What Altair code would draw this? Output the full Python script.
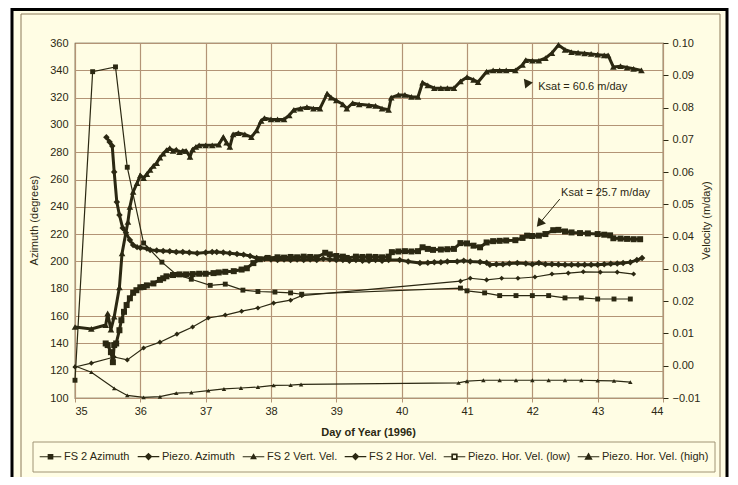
import altair as alt
import pandas as pd

DARK = "#2b2812"
CREAM = "#fffde4"
GRID = "#b39476"
FONT = "Liberation Sans"

# ---------------- data (left axis: degrees) ----------------
fs2_az_day = [35.00, 35.27, 35.62, 35.80, 36.05, 36.33, 36.55, 36.78, 37.07, 37.30, 37.57, 37.80,
              38.06, 38.30, 38.47, 40.90, 41.00, 41.27, 41.50, 41.75, 42.00, 42.25, 42.50, 42.75,
              43.00, 43.25, 43.50]
fs2_az_val = [113, 339, 342.5, 269, 213.5, 199.5, 190.5, 187, 182.5, 183.4, 179, 178,
              177.6, 177, 176, 180.5, 178.5, 177, 175, 175, 175, 175, 173.3, 173.3,
              172.5, 172.5, 172.5]

pz_az_day = [35.48, 35.53, 35.57, 35.60, 35.64, 35.68, 35.73, 35.78, 35.84, 35.89, 35.95, 36.00,
             36.10, 36.15, 36.25, 36.35, 36.45, 36.55, 36.65, 36.75, 36.87, 37.00, 37.10, 37.17,
             37.27, 37.37, 37.48, 37.58, 37.68, 37.78, 37.90, 38.00, 38.10, 38.20, 38.30, 38.40,
             38.50, 38.60, 38.70, 38.80, 38.90, 39.00, 39.10, 39.20, 39.30, 39.40, 39.50, 39.60,
             39.70, 39.80, 39.97, 40.10, 40.28, 40.40, 40.50, 40.60, 40.70, 40.85, 40.95, 41.05,
             41.20, 41.30, 41.35, 41.45, 41.55, 41.65, 41.77, 41.90, 42.00, 42.10, 42.20, 42.30,
             42.40, 42.50, 42.60, 42.70, 42.80, 42.90, 43.00, 43.10, 43.20, 43.30, 43.39, 43.50,
             43.60, 43.68]
pz_az_val = [291, 287.5, 284.5, 265.5, 243.5, 234, 224.5, 221, 215.7, 212, 210.5, 210,
             209.5, 208.4, 208, 207.7, 207.5, 207, 207, 206.5, 206, 206.5, 207, 207,
             206.5, 206, 205.5, 205, 204, 202.5, 202, 201.5, 201, 201.5, 201, 201.5,
             201, 201.5, 201, 202, 201.5, 201, 201, 200.5, 201, 200.5, 200.5, 201,
             200.5, 201, 201, 200, 198.8, 199, 199.5, 199.5, 200, 200, 200.5, 200,
             199.6, 199, 197.6, 198, 198, 198.5, 198.8, 198.5, 198, 198.8, 198, 198,
             197.8, 197.6, 197.6, 197.6, 197.6, 197.6, 197.6, 198, 198.3, 198.5, 198.8, 199.5,
             201, 202.5]

# ---------------- data (right axis: m/day) ----------------
vert_day = [35.00, 35.25, 35.60, 35.80, 36.05, 36.30, 36.55, 36.78, 37.04, 37.28, 37.54, 37.80,
            38.04, 38.30, 38.46, 40.87, 41.00, 41.25, 41.50, 41.75, 42.00, 42.25, 42.50, 42.75,
            43.00, 43.25, 43.50]
vert_val = [-0.0001, -0.0020, -0.0070, -0.0092, -0.0098, -0.0096, -0.0085, -0.0083, -0.0077,
            -0.0072, -0.0069, -0.0066, -0.0061, -0.0060, -0.0058, -0.0053, -0.0048, -0.0045,
            -0.0045, -0.0045, -0.0045, -0.0045, -0.0045, -0.0045, -0.0046, -0.0047, -0.0051]

hor_day = [35.00, 35.25, 35.60, 35.80, 36.05, 36.30, 36.56, 36.80, 37.04, 37.30, 37.55, 37.80,
           38.04, 38.30, 38.47, 40.90, 41.05, 41.30, 41.53, 41.78, 42.04, 42.30, 42.55, 42.78,
           43.04, 43.30, 43.55]
hor_val = [-0.0004, 0.0008, 0.0027, 0.0018, 0.0055, 0.0073, 0.0098, 0.0120, 0.0148, 0.0157,
           0.0169, 0.0179, 0.0194, 0.0203, 0.0217, 0.0262, 0.0271, 0.0266, 0.0271, 0.0271,
           0.0275, 0.0284, 0.0287, 0.0291, 0.0290, 0.0290, 0.0284]

low_day = [35.47, 35.50, 35.55, 35.58, 35.60, 35.63, 35.68, 35.71, 35.75, 35.79, 35.84, 35.89,
           35.94, 36.00, 36.05, 36.10, 36.20, 36.30, 36.35, 36.40, 36.50, 36.60, 36.70, 36.80,
           36.90, 37.00, 37.12, 37.20, 37.30, 37.43, 37.55, 37.63, 37.73, 37.83, 37.95, 38.10,
           38.20, 38.30, 38.40, 38.50, 38.60, 38.70, 38.83, 38.90, 39.00, 39.10, 39.16, 39.30,
           39.40, 39.50, 39.60, 39.70, 39.80, 39.85, 39.95, 40.05, 40.15, 40.25, 40.32, 40.40,
           40.48, 40.60, 40.70, 40.80, 40.90, 41.00, 41.10, 41.20, 41.30, 41.40, 41.50, 41.60,
           41.74, 41.85, 41.92, 42.00, 42.10, 42.20, 42.32, 42.40, 42.50, 42.60, 42.73, 42.85,
           43.00, 43.10, 43.19, 43.24, 43.35, 43.45, 43.55, 43.65]
low_val = [0.0069, 0.0064, 0.0042, 0.0011, 0.0064, 0.0069, 0.0110, 0.0141, 0.0167, 0.0188,
           0.0209, 0.0226, 0.0234, 0.0243, 0.0244, 0.0249, 0.0255, 0.0266, 0.0271, 0.0277,
           0.0281, 0.0283, 0.0283, 0.0284, 0.0285, 0.0285, 0.0287, 0.0289, 0.0291, 0.0293,
           0.0298, 0.0302, 0.0318, 0.0330, 0.0334, 0.0336, 0.0335, 0.0337, 0.0336, 0.0338,
           0.0337, 0.0336, 0.0350, 0.0345, 0.0340, 0.0338, 0.0334, 0.0338, 0.0337, 0.0338,
           0.0337, 0.0336, 0.0338, 0.0352, 0.0354, 0.0355, 0.0354, 0.0355, 0.0367, 0.0362,
           0.0359, 0.0360, 0.0361, 0.0362, 0.0380, 0.0379, 0.0372, 0.0367, 0.0382, 0.0386,
           0.0387, 0.0388, 0.0389, 0.0396, 0.0403, 0.0402, 0.0403, 0.0408, 0.0420, 0.0421,
           0.0416, 0.0413, 0.0411, 0.0410, 0.0408, 0.0406, 0.0404, 0.0395, 0.0394, 0.0393,
           0.0392, 0.0392]

high_day = [35.00, 35.25, 35.47, 35.50, 35.55, 35.60, 35.68, 35.72, 35.81, 35.84, 35.89, 35.95,
            36.00, 36.05, 36.10, 36.15, 36.20, 36.25, 36.30, 36.35, 36.40, 36.45, 36.50, 36.55,
            36.60, 36.65, 36.70, 36.76, 36.80, 36.85, 36.90, 37.00, 37.10, 37.20, 37.27, 37.32,
            37.37, 37.42, 37.50, 37.60, 37.70, 37.78, 37.85, 37.90, 38.00, 38.10, 38.20, 38.28,
            38.35, 38.45, 38.55, 38.65, 38.75, 38.86, 38.92, 39.00, 39.10, 39.16, 39.25, 39.35,
            39.50, 39.60, 39.70, 39.80, 39.84, 39.95, 40.05, 40.15, 40.25, 40.32, 40.40, 40.50,
            40.60, 40.70, 40.80, 40.90, 41.00, 41.10, 41.17, 41.30, 41.40, 41.50, 41.60, 41.74,
            41.85, 41.90, 42.00, 42.10, 42.20, 42.30, 42.40, 42.50, 42.60, 42.70, 42.80, 42.90,
            43.00, 43.10, 43.16, 43.24, 43.35, 43.45, 43.55, 43.67]
high_val = [0.0120, 0.0114, 0.0126, 0.0162, 0.0112, 0.0152, 0.0243, 0.0348, 0.0446, 0.0492,
            0.0539, 0.0566, 0.0590, 0.0581, 0.0594, 0.0607, 0.0619, 0.0628, 0.0645, 0.0657,
            0.0668, 0.0674, 0.0666, 0.0670, 0.0662, 0.0666, 0.0666, 0.0647, 0.0670, 0.0678,
            0.0683, 0.0683, 0.0683, 0.0685, 0.0708, 0.0691, 0.0678, 0.0717, 0.0721, 0.0717,
            0.0708, 0.0729, 0.0759, 0.0767, 0.0763, 0.0763, 0.0763, 0.0776, 0.0793, 0.0797,
            0.0801, 0.0797, 0.0797, 0.0843, 0.0831, 0.0822, 0.0810, 0.0797, 0.0814, 0.0810,
            0.0807, 0.0805, 0.0797, 0.0793, 0.0831, 0.0839, 0.0839, 0.0833, 0.0833, 0.0877,
            0.0869, 0.0860, 0.0860, 0.0860, 0.0860, 0.0881, 0.0894, 0.0886, 0.0879, 0.0911,
            0.0915, 0.0915, 0.0915, 0.0915, 0.0932, 0.0947, 0.0945, 0.0945, 0.0953, 0.0969,
            0.0994, 0.0979, 0.0972, 0.0970, 0.0968, 0.0966, 0.0964, 0.0962, 0.0962, 0.0926,
            0.0928, 0.0924, 0.0920, 0.0915]

series_names = ["FS 2 Azimuth", "Piezo. Azimuth", "FS 2 Vert. Vel.", "FS 2 Hor. Vel.",
                "Piezo. Hor. Vel. (low)", "Piezo. Hor. Vel. (high)"]

ann_labels = ["Ksat = 60.6 m/day", "Ksat = 25.7 m/day"]
ann_day = [42.09, 42.44]
ann_val = [327.8, 250.1]
arrow_day = [42.42]
arrow_day2 = [42.12]
arrow_val = [245.7]
arrow_val2 = [228.5]
head_day = [41.91, 42.11]
head_val = [331.4, 227.8]
head_ang = [322, 220]

x_ticks = list(range(35, 45))
left_ticks = list(range(100, 361, 20))
right_ticks = [-0.01, 0.0, 0.01, 0.02, 0.03, 0.04, 0.05, 0.06, 0.07, 0.08, 0.09, 0.10]


def frame(days, vals, name):
    return pd.DataFrame({"day": days, "val": vals, "series": name})


X = alt.X("day:Q", scale=alt.Scale(domain=[35, 44], nice=False, zero=False),
          axis=alt.Axis(values=x_ticks, title="Day of Year (1996)", grid=True, gridColor=GRID,
                        gridWidth=1.2, domain=False, tickColor=GRID, tickSize=4, labelPadding=3,
                        labelFontSize=11, titleFontWeight="bold", titleFontSize=11,
                        titleX=293, titleY=34, titleBaseline="middle"))
YL = alt.Y("val:Q", scale=alt.Scale(domain=[100, 360], nice=False, zero=False),
           axis=alt.Axis(orient="left", values=left_ticks, title="Azimuth (degrees)", grid=True,
                         gridColor=GRID, gridWidth=1.2, domain=False, ticks=False, labelPadding=7,
                         labelFontSize=11, titleFontSize=11, titleFontWeight="normal",
                         titleAngle=270, titleX=-41, titleY=177, titleAlign="center",
                         titleBaseline="middle"))
YR = alt.Y("val:Q", scale=alt.Scale(domain=[-0.01, 0.10], nice=False, zero=False),
           axis=alt.Axis(orient="right", values=right_ticks, format=".2f", title="Velocity (m/day)",
                         grid=False, domain=False, tickColor=DARK, tickSize=5, labelPadding=4,
                         labelFontSize=11, titleFontSize=11, titleFontWeight="normal",
                         titleAngle=270, titleX=43, titleY=177, titleAlign="center",
                         titleBaseline="middle"))


def series(df, Y, shape, size, width, filled=True):
    base = alt.Chart(df)
    line = base.mark_line(color=DARK, strokeWidth=width).encode(x=X, y=Y)
    pts = base.mark_point(shape=shape, filled=filled, size=size, color=DARK,
                          strokeWidth=1.3, opacity=1).encode(x=X, y=Y)
    return [line, pts]


one = pd.DataFrame({"a": [0]})


def box(x1, x2, y1, y2, stroke, width, fill=None):
    kw = dict(stroke=stroke, strokeWidth=width)
    if fill is None:
        kw["fillOpacity"] = 0
    else:
        kw["fill"] = fill
    return alt.Chart(one).mark_rect(**kw).encode(
        x=alt.value(x1), x2=alt.value(x2), y=alt.value(y1), y2=alt.value(y2))


deco = [
    box(-67, -63, -35, 440, "white", 0, fill="white"),
    box(652, 660, -35, 440, "white", 0, fill="white"),
    box(-63, 652, -33.5, 470, "black", 3),
    box(-54, 645, -29, 465, "#8c7b5a", 1),
    box(-42, 640, 399, 429, "#a09474", 1),
]

ann_df = pd.DataFrame({"day": ann_day, "val": ann_val, "label": ann_labels})
arrow_df = pd.DataFrame({"day": arrow_day, "day2": arrow_day2, "val": arrow_val, "val2": arrow_val2})
head_df = pd.DataFrame({"day": head_day, "val": head_val, "ang": head_ang})

ann = [
    alt.Chart(ann_df).mark_text(align="left", baseline="middle", font=FONT, fontSize=11,
                                color=DARK).encode(x=X, y=YL, text="label:N"),
    alt.Chart(arrow_df).mark_rule(color=DARK, strokeWidth=1).encode(
        x=X, x2="day2:Q", y=YL, y2="val2:Q"),
    alt.Chart(head_df).mark_point(shape="triangle-up", filled=True, size=95, color=DARK,
                                  opacity=1).encode(x=X, y=YL, angle=alt.Angle("ang:Q", scale=None)),
]

left = alt.layer(
    *deco,
    *series(frame(fs2_az_day, fs2_az_val, series_names[0]), YL, "square", 24, 1.2),
    *series(frame(pz_az_day, pz_az_val, series_names[1]), YL, "diamond", 42, 3),
    *ann,
)


def sq(r):
    return f"M{-r},{-r}H{r}V{r}H{-r}Z"


def dia(r):
    return f"M0,{-r}L{r},0L0,{r}L{-r},0Z"


def tri(r):
    return f"M0,{-r}L{r},{0.75 * r}H{-r}Z"


LINE = "M-3.6,0H3.6"
legend_paths = [
    LINE + sq(0.75) + sq(0.45) + sq(0.15),
    LINE + dia(1.0) + dia(0.6) + dia(0.2),
    LINE + tri(0.8) + tri(0.45) + tri(0.15),
    LINE + dia(1.0) + dia(0.6) + dia(0.2),
    "M-3.6,0H-0.85M0.85,0H3.6" + sq(0.85) + sq(0.7),
    LINE + tri(1.05) + tri(0.65) + tri(0.25),
]
legend_df = pd.DataFrame({"name": series_names})
legend_layer = alt.Chart(legend_df).mark_point(
    filled=False, size=36, color=DARK, strokeWidth=1.2, opacity=1
).encode(
    x=alt.value(-600), y=alt.value(-600),
    shape=alt.Shape("name:N", scale=alt.Scale(domain=series_names, range=legend_paths),
                    legend=alt.Legend(orient="none", legendX=-30, legendY=408, direction="horizontal",
                                      columns=6, title=None, padding=0, symbolSize=36,
                                      symbolStrokeColor=DARK,
                                      symbolStrokeWidth=1.2, symbolOpacity=1,
                                      labelFont=FONT, labelFontSize=11, labelColor=DARK,
                                      labelOffset=8, columnPadding=4, labelLimit=300)),
)

right = alt.layer(
    *series(frame(vert_day, vert_val, series_names[2]), YR, "triangle-up", 20, 1.2),
    *series(frame(hor_day, hor_val, series_names[3]), YR, "diamond", 26, 1.2),
    *series(frame(low_day, low_val, series_names[4]), YR, "square", 36, 3),
    *series(frame(high_day, high_val, series_names[5]), YR, "triangle-up", 44, 3),
    legend_layer,
)

chart = alt.layer(left, right).resolve_scale(y="independent", shape="independent").properties(
    width=588, height=355,
    autosize=alt.AutoSizeParams(type="none"),
    padding={"left": 67, "top": 35, "right": 67, "bottom": 79},
    background=CREAM,
).configure_view(
    stroke="#4a3f22", strokeWidth=1.2
).configure_axis(
    labelFont=FONT, titleFont=FONT, labelColor=DARK, titleColor=DARK
)

chart.save("out.html", embed_options={"renderer": "svg", "actions": False})
